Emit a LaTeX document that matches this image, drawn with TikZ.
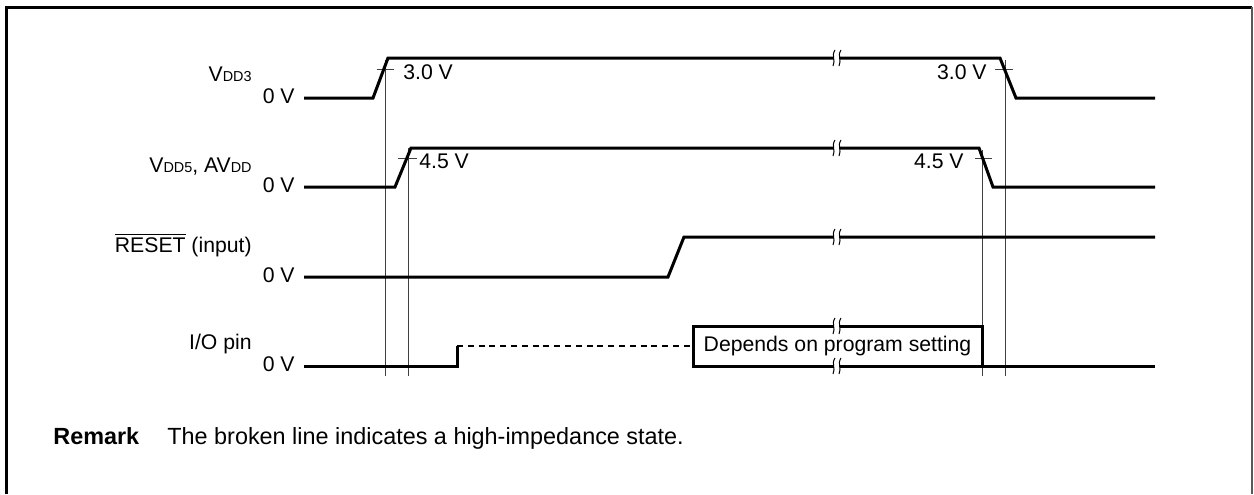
\documentclass[tikz,border=0pt]{standalone}
\usepackage{fontspec}
\setmainfont{Liberation Sans}
\begin{document}
\begin{tikzpicture}[x=0.5pt,y=-0.5pt,
  sig/.style={line width=1.5pt, line join=miter},
  hiz/.style={line width=1.1pt, dash pattern=on 3pt off 2.4pt},
  guide/.style={line width=0.5pt, black!75},
  tick/.style={line width=0.5pt, black!75},
  txt/.style={inner sep=0pt, font=\fontsize{10.6}{12}\selectfont},
  lbl/.style={txt, anchor=mid east},
  brk/.pic={
    \fill[white] (-3,-2.6) rectangle (3,2.6);
    \draw[line width=0.5pt] (-2,-8) .. controls (-6,-2) and (-1,2) .. (-4,8);
    \draw[line width=0.5pt] (4,-8) .. controls (0,-2) and (5,2) .. (2,8);
  }]
\useasboundingbox (0,0) rectangle (1254,494);
\newcommand\sbs[1]{{\fontsize{7.2}{8}\selectfont #1}}
% frame
\draw[line width=1.5pt] (6,494) -- (6,7) -- (1252,7);
\draw[line width=0.8pt, black!65] (1252,7) -- (1252,494);

% guide lines
\draw[guide] (385,60) coordinate (g1t) -- (385,376) coordinate (g1b);
\draw[guide] (408,148) coordinate (g2t) -- (408,376) coordinate (g2b);
\draw[guide] (982,150) coordinate (g3t) -- (982,376) coordinate (g3b);
\draw[guide] (1005,60) coordinate (g4t) -- (1005,376) coordinate (g4b);
\draw[tick] (377,69) -- (394,69);
\draw[tick] (398,158) -- (417,158);
\draw[tick] (995,69) -- (1013,69);
\draw[tick] (975,158) -- (992,158);

% VDD3
\coordinate (a0) at (304,98);
\coordinate (a1) at (373,98);
\coordinate (a2) at (388,58);
\coordinate (a3) at (1000,58);
\coordinate (a4) at (1016,98);
\coordinate (a5) at (1155,98);
\draw[sig] (a0) -- (a1) -- (a2) -- (a3) -- (a4) -- (a5);
% VDD5
\coordinate (b0) at (304,187);
\coordinate (b1) at (395,187);
\coordinate (b2) at (411,148);
\coordinate (b3) at (979,148);
\coordinate (b4) at (993,187);
\coordinate (b5) at (1155,187);
\draw[sig] (b0) -- (b1) -- (b2) -- (b3) -- (b4) -- (b5);
% RESET
\coordinate (c0) at (304,277);
\coordinate (c1) at (668,277);
\coordinate (c2) at (684,237);
\coordinate (c3) at (1155,237);
\draw[sig] (c0) -- (c1) -- (c2) -- (c3);
% I/O
\coordinate (d0) at (304,366);
\coordinate (d1) at (457,366);
\coordinate (d2) at (457,346);
\coordinate (d4) at (982,366);
\coordinate (d5) at (1155,366);
\node[draw, line width=1.5pt, minimum width=144.5pt, minimum height=20pt, inner sep=0pt,
      outer sep=0pt, anchor=north west, txt] (box) at (693,326) {Depends on program setting};
\draw[sig] (d0) -- (d1) -- (d2);
\draw[hiz] (d2) -- (box.west);
\draw[sig] (d4) -- (d5);

% break marks
\pic at (837,58) {brk};
\pic at (837,148) {brk};
\pic at (837,237) {brk};
\pic at (837,326) {brk};
\pic at (837,366) {brk};

% level labels
\node[txt, anchor=mid west] (v30a) at (403,74) {3.0 V};
\node[txt, anchor=mid east] (v30b) at (987,74) {3.0 V};
\node[txt, anchor=mid west] (v45a) at (419,163) {4.5 V};
\node[txt, anchor=mid east] (v45b) at (964,163) {4.5 V};

% left labels
\node[lbl] (n1) at (252,76) {V\sbs{DD3}};
\node[lbl] (z1) at (295,98) {0 V};
\node[lbl] (n2) at (252,167) {V\sbs{DD5}, AV\sbs{DD}};
\node[lbl] (z2) at (295,187) {0 V};
\node[lbl] (n3) at (252,247) {$\overline{\mbox{RESET}}$ (input)};
\node[lbl] (z3) at (295,277) {0 V};
\node[lbl] (n4) at (252,344) {I/O pin};
\node[lbl] (z4) at (295,366) {0 V};

% remark
\node[txt, anchor=mid west, font=\fontsize{11.7}{14}\selectfont\bfseries] (rm) at (53,439) {Remark};
\node[txt, anchor=mid west, font=\fontsize{11.7}{14}\selectfont] (rt) at (167,439) {The broken line indicates a high-impedance state.};
\end{tikzpicture}
\end{document}
